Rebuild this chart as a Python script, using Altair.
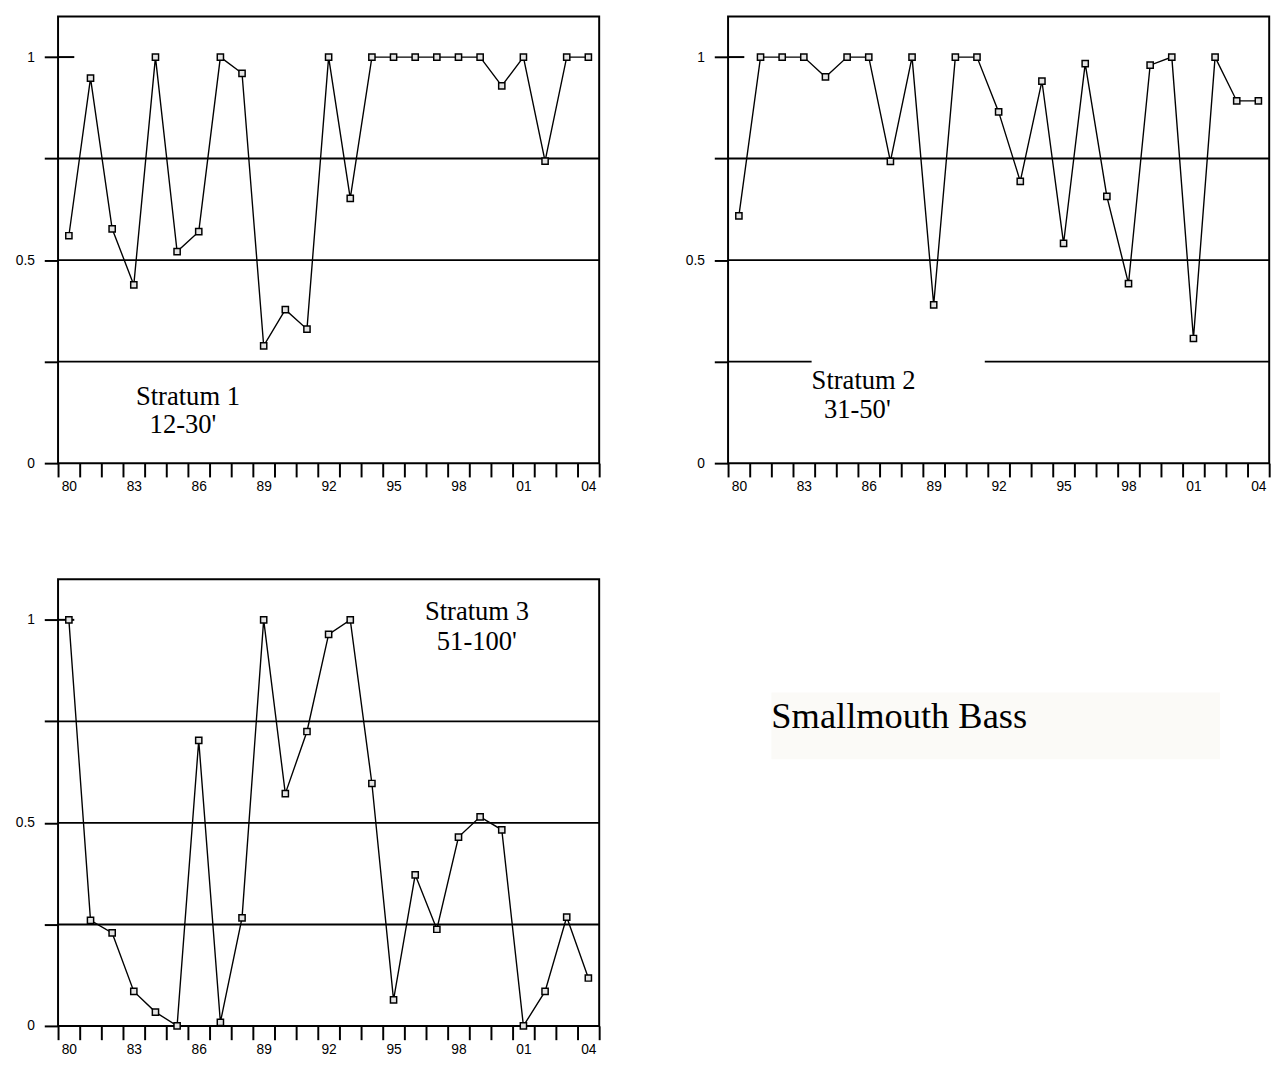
import altair as alt
import pandas as pd

# ---- data -------------------------------------------------------------
year_labels = ["80", "81", "82", "83", "84", "85", "86", "87", "88", "89",
               "90", "91", "92", "93", "94", "95", "96", "97", "98", "99",
               "00", "01", "02", "03", "04"]
tick_labels = ["80", "83", "86", "89", "92", "95", "98", "01", "04"]

stratum1 = [0.560, 0.948, 0.577, 0.439, 1.0, 0.521, 0.570, 1.0, 0.960, 0.289,
            0.378, 0.330, 1.0, 0.652, 1.0, 1.0, 1.0, 1.0, 1.0, 1.0,
            0.929, 1.0, 0.744, 1.0, 1.0]
stratum2 = [0.609, 1.0, 1.0, 1.0, 0.951, 1.0, 1.0, 0.743, 1.0, 0.390,
            1.0, 1.0, 0.865, 0.694, 0.941, 0.541, 0.984, 0.657, 0.442, 0.980,
            1.0, 0.307, 1.0, 0.892, 0.892]
stratum3 = [1.0, 0.260, 0.229, 0.085, 0.034, 0.0, 0.703, 0.009, 0.266, 1.0,
            0.572, 0.725, 0.964, 1.0, 0.597, 0.064, 0.372, 0.238, 0.465, 0.515,
            0.483, 0.0, 0.085, 0.268, 0.118]

y_tick_values = [0, 0.25, 0.5, 0.75, 1]
y_tick_labels = ["0", "", "0.5", "", "1"]
grid_values = [0.25, 0.5, 0.75]

stratum_names = ["Stratum 1", "Stratum 2", "Stratum 3"]
depth_names = ["12-30'", "31-50'", "51-100'"]
species = "Smallmouth Bass"

# ---- helpers ----------------------------------------------------------
W, H = 550, 454
year_pos = [80 + i for i in range(len(year_labels))]
edges = [79.5 + i for i in range(len(year_labels) + 1)]

x_expr = "''"
for e, lab in reversed(list(zip(edges, year_labels))):
    if lab in tick_labels:
        x_expr = f"datum.value == {e} ? '{lab}' : ({x_expr})"
y_expr = "''"
for v, lab in reversed(list(zip(y_tick_values, y_tick_labels))):
    y_expr = f"datum.value == {v} ? '{lab}' : ({y_expr})"

x_scale = alt.Scale(domain=[79.5, 104.5], nice=False, zero=False)
y_scale = alt.Scale(domain=[0, 1.1], nice=False)

x_axis = alt.Axis(values=edges, labelExpr=x_expr, labelOffset=W / 50,
                  labelFlush=False, labelOverlap=False, labelBound=False,
                  labelPadding=3, title=None)
y_axis = alt.Axis(values=y_tick_values, labelExpr=y_expr, labelPadding=10,
                  title=None)


def X(field):
    return alt.X(field, scale=x_scale, axis=x_axis)


def Y(field):
    return alt.Y(field, scale=y_scale, axis=y_axis)


def panel(values, idx, name_xy, depth_xy, gap=None):
    df = pd.DataFrame({"year": year_pos, "value": values})
    line = alt.Chart(df).mark_line(color="black", strokeWidth=1.4).encode(
        x=X("year:Q"), y=Y("value:Q"))
    grid = alt.Chart(pd.DataFrame({"g": grid_values})).mark_rule(
        color="black", strokeWidth=2).encode(y=Y("g:Q"))
    stub = alt.Chart(pd.DataFrame({"a": [79.5], "b": [80.25], "v": [1.0]})).mark_rule(
        color="black", strokeWidth=2).encode(x=X("a:Q"), x2="b:Q", y=Y("v:Q"))
    layers = [grid, stub]
    if gap is not None:
        gdf = pd.DataFrame({"a": [gap[0]], "b": [gap[1]], "lo": [0.235], "hi": [0.265]})
        layers.append(alt.Chart(gdf).mark_rect(color="white").encode(
            x=X("a:Q"), x2="b:Q", y=Y("lo:Q"), y2="hi:Q"))
    pts = alt.Chart(df).mark_point(shape="square", size=40, filled=True,
                                   fill="#e4e4e4", stroke="black",
                                   strokeWidth=1.5, opacity=1).encode(
        x=X("year:Q"), y=Y("value:Q"))
    tdf = pd.DataFrame({"x": [name_xy[0], depth_xy[0]],
                        "y": [name_xy[1], depth_xy[1]],
                        "t": [stratum_names[idx], depth_names[idx]]})
    txt = alt.Chart(tdf).mark_text(align="left", baseline="alphabetic",
                                   font="Liberation Serif", fontSize=27,
                                   color="black").encode(
        x=X("x:Q"), y=Y("y:Q"), text="t:N")
    layers += [line, pts, txt]
    return alt.layer(*layers).properties(width=W, height=H)


p1 = panel(stratum1, 0, (83.1, 0.142), (83.73, 0.075))
p2 = panel(stratum2, 1, (83.36, 0.182), (83.93, 0.11), gap=(83.36, 91.36))
p3 = panel(stratum3, 2, (96.45, 1.0), (97.0, 0.925))

base = alt.Chart(pd.DataFrame({"a": [0]}))
box = base.mark_rect(fill="#fbfaf7").encode(
    x=alt.value(88), x2=alt.value(544), y=alt.value(115), y2=alt.value(183))
label = base.mark_text(align="left", baseline="alphabetic",
                       font="Liberation Serif", fontSize=37,
                       color="black").encode(
    x=alt.value(88), y=alt.value(151), text=alt.value(species))
p4 = alt.layer(box, label).properties(
    width=W, height=H, view=alt.ViewBackground(stroke="transparent"))

chart = alt.vconcat(
    alt.hconcat(p1, p2, spacing=74),
    alt.hconcat(p3, p4, spacing=74),
    spacing=85,
).properties(
    padding={"left": 14, "top": 7, "right": 0, "bottom": 0},
    background="white",
).configure_view(
    stroke="black", strokeWidth=2
).configure_axis(
    labelFont="Liberation Sans", labelFontSize=14, labelColor="black",
    tickSize=14, tickWidth=2, tickColor="black", domain=False, grid=False,
)

chart.save("out.html", embed_options={"renderer": "svg", "actions": False})
